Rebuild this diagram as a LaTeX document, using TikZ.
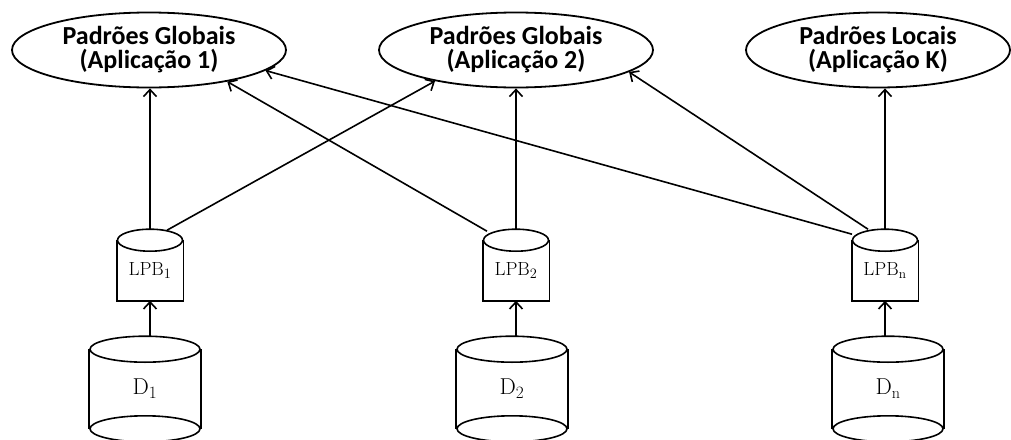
\documentclass[tikz,border=0pt]{standalone}
\usepackage{fontspec}
\newfontfamily\labelfont{Carlito}
\usetikzlibrary{shapes.geometric,arrows.meta,calc}
\begin{document}
\begin{tikzpicture}[x=1pt,y=-1pt,
  line width=1.6pt,
  goal/.style={ellipse, draw, line width=1.8pt, minimum width=274pt,
    minimum height=75pt, inner sep=0pt, align=center,
    font=\labelfont\bfseries\fontsize{26}{24}\selectfont},
  lpbbody/.style={rectangle, inner sep=0pt, minimum width=65pt,
    minimum height=59pt, font=\fontsize{19}{21}\selectfont},
  dbody/.style={rectangle, inner sep=0pt, minimum width=110pt,
    minimum height=78pt, font=\fontsize{23}{26}\selectfont},
  arr/.style={-{Straight Barb[length=7pt,width=13pt]}, line width=1.6pt},
]
\useasboundingbox (0,0) rectangle (1011,439);

% pattern sets (top row)
\node[goal] (e1) at (149,50) {Padrões Globais\\(Aplicação 1)};
\node[goal] (e2) at (516,50) {Padrões Globais\\(Aplicação 2)};
\node[goal, minimum width=264pt] (ek) at (878,50) {Padrões Locais\\(Aplicação K)};

% local pattern bases (middle row)
\node[lpbbody] (lpb1) at (150,270.5) {$\mathrm{LPB}_1$};
\node[lpbbody] (lpb2) at (516,270.5) {$\mathrm{LPB}_2$};
\node[lpbbody] (lpbn) at (885,270.5) {$\mathrm{LPB}_{\mathrm{n}}$};
\foreach \n in {lpb1,lpb2,lpbn}{
  \draw (\n.north west) -- (\n.south west) -- (\n.south east) -- (\n.north east);
  \draw (\n.north) ellipse [x radius=32.5pt, y radius=11pt];
}

% databases (bottom row)
\node[dbody] (d1) at (145,389) {\raisebox{-5pt}{$\mathrm{D}_1$}};
\node[dbody] (d2) at (512,389) {\raisebox{-4pt}{$\mathrm{D}_2$}};
\node[dbody] (dn) at (888,389) {\raisebox{-4pt}{$\mathrm{D}_{\mathrm{n}}$}};
\foreach \n in {d1,d2,dn}{
  \draw (\n.north west) -- (\n.south west);
  \draw (\n.north east) -- (\n.south east);
  \draw (\n.north) ellipse [x radius=55pt, y radius=13pt];
  \draw (\n.south) ellipse [x radius=55pt, y radius=13pt];
}

% databases to local pattern bases
\draw[arr] ($(lpb1.south |- d1.north)+(0,13pt)$) -- (lpb1.south);
\draw[arr] ($(lpb2.south |- d2.north)+(0,13pt)$) -- (lpb2.south);
\draw[arr] ($(lpbn.south |- dn.north)+(0,13pt)$) -- (lpbn.south);

% local pattern bases to pattern sets
\draw[arr] ($(lpb1.north)+(0,11pt)$) -- (lpb1.north |- e1.south);
\draw[arr] ($(lpb2.north)+(0,11pt)$) -- (lpb2.north |- e2.south);
\draw[arr] ($(lpbn.north)+(0,11pt)$) -- (lpbn.north |- ek.south);
\draw[arr] ($(lpb1.north)+(17pt,10pt)$) -- (e2.201);
\draw[arr] ($(lpb2.north)+(-29pt,9pt)$) -- (e1.338);
\draw[arr] ($(lpbn.north)+(-33pt,6pt)$) -- (e1.350);
\draw[arr] ($(lpbn.north)+(-17pt,11pt)$) -- (e2.349);
\end{tikzpicture}
\end{document}
